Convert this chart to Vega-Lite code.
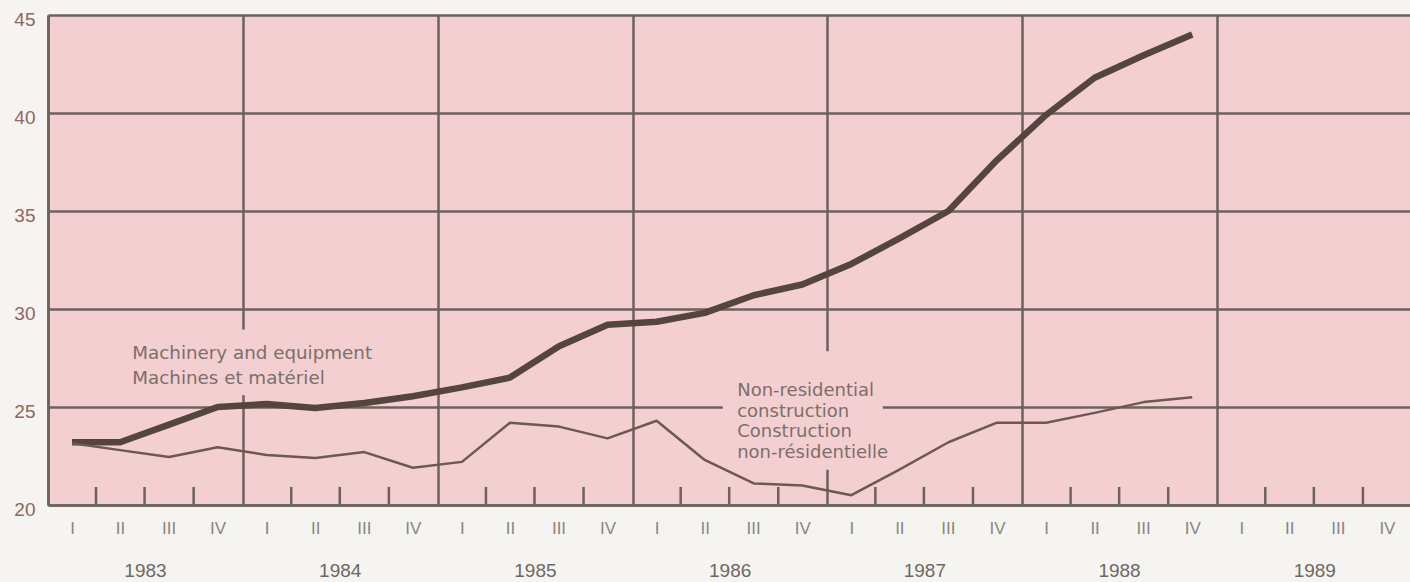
{
  "$schema": "https://vega.github.io/schema/vega-lite/v6.json",
  "width": 1364,
  "height": 490,
  "autosize": {"type": "none"},
  "padding": {"left": 48, "top": 15, "right": 0, "bottom": 77},
  "background": "#f5f4f0",
  "config": {"view": {"fill": "#f3cfd1", "stroke": null}, "font": "Liberation Sans"},
  "datasets": {
    "series": [
      {"date": "1983-02-15", "series": "Machinery and equipment", "value": 23.2},
      {"date": "1983-05-16", "series": "Machinery and equipment", "value": 23.2},
      {"date": "1983-08-16", "series": "Machinery and equipment", "value": 24.1},
      {"date": "1983-11-15", "series": "Machinery and equipment", "value": 25.0},
      {"date": "1984-02-15", "series": "Machinery and equipment", "value": 25.15},
      {"date": "1984-05-16", "series": "Machinery and equipment", "value": 24.95},
      {"date": "1984-08-16", "series": "Machinery and equipment", "value": 25.2},
      {"date": "1984-11-15", "series": "Machinery and equipment", "value": 25.55},
      {"date": "1985-02-15", "series": "Machinery and equipment", "value": 26.0},
      {"date": "1985-05-16", "series": "Machinery and equipment", "value": 26.5},
      {"date": "1985-08-16", "series": "Machinery and equipment", "value": 28.1},
      {"date": "1985-11-15", "series": "Machinery and equipment", "value": 29.2},
      {"date": "1986-02-15", "series": "Machinery and equipment", "value": 29.35},
      {"date": "1986-05-16", "series": "Machinery and equipment", "value": 29.8},
      {"date": "1986-08-16", "series": "Machinery and equipment", "value": 30.7},
      {"date": "1986-11-15", "series": "Machinery and equipment", "value": 31.25},
      {"date": "1987-02-15", "series": "Machinery and equipment", "value": 32.3},
      {"date": "1987-05-16", "series": "Machinery and equipment", "value": 33.6},
      {"date": "1987-08-16", "series": "Machinery and equipment", "value": 35.0},
      {"date": "1987-11-15", "series": "Machinery and equipment", "value": 37.6},
      {"date": "1988-02-15", "series": "Machinery and equipment", "value": 39.9},
      {"date": "1988-05-16", "series": "Machinery and equipment", "value": 41.8},
      {"date": "1988-08-16", "series": "Machinery and equipment", "value": 42.95},
      {"date": "1988-11-15", "series": "Machinery and equipment", "value": 44.0},
      {"date": "1983-02-15", "series": "Non-residential construction", "value": 23.15},
      {"date": "1983-05-16", "series": "Non-residential construction", "value": 22.8},
      {"date": "1983-08-16", "series": "Non-residential construction", "value": 22.45},
      {"date": "1983-11-15", "series": "Non-residential construction", "value": 22.95},
      {"date": "1984-02-15", "series": "Non-residential construction", "value": 22.55},
      {"date": "1984-05-16", "series": "Non-residential construction", "value": 22.4},
      {"date": "1984-08-16", "series": "Non-residential construction", "value": 22.7},
      {"date": "1984-11-15", "series": "Non-residential construction", "value": 21.9},
      {"date": "1985-02-15", "series": "Non-residential construction", "value": 22.2},
      {"date": "1985-05-16", "series": "Non-residential construction", "value": 24.2},
      {"date": "1985-08-16", "series": "Non-residential construction", "value": 24.0},
      {"date": "1985-11-15", "series": "Non-residential construction", "value": 23.4},
      {"date": "1986-02-15", "series": "Non-residential construction", "value": 24.3},
      {"date": "1986-05-16", "series": "Non-residential construction", "value": 22.3},
      {"date": "1986-08-16", "series": "Non-residential construction", "value": 21.1},
      {"date": "1986-11-15", "series": "Non-residential construction", "value": 21.0},
      {"date": "1987-02-15", "series": "Non-residential construction", "value": 20.5},
      {"date": "1987-05-16", "series": "Non-residential construction", "value": 21.8},
      {"date": "1987-08-16", "series": "Non-residential construction", "value": 23.2},
      {"date": "1987-11-15", "series": "Non-residential construction", "value": 24.2},
      {"date": "1988-02-15", "series": "Non-residential construction", "value": 24.2},
      {"date": "1988-05-16", "series": "Non-residential construction", "value": 24.7},
      {"date": "1988-08-16", "series": "Non-residential construction", "value": 25.25},
      {"date": "1988-11-15", "series": "Non-residential construction", "value": 25.5}
    ],
    "qticks": [
      {"date": "1983-04-01"}, {"date": "1983-07-01"}, {"date": "1983-10-01"},
      {"date": "1984-04-01"}, {"date": "1984-07-01"}, {"date": "1984-10-01"},
      {"date": "1985-04-01"}, {"date": "1985-07-01"}, {"date": "1985-10-01"},
      {"date": "1986-04-01"}, {"date": "1986-07-01"}, {"date": "1986-10-01"},
      {"date": "1987-04-01"}, {"date": "1987-07-01"}, {"date": "1987-10-01"},
      {"date": "1988-04-01"}, {"date": "1988-07-01"}, {"date": "1988-10-01"},
      {"date": "1989-04-01"}, {"date": "1989-07-01"}, {"date": "1989-10-01"}
    ]
  },
  "resolve": {"axis": {"x": "independent"}},
  "layer": [
    {
      "data": {"name": "qticks"},
      "mark": {"type": "rule", "color": "#6d625c", "strokeWidth": 2.5},
      "encoding": {
        "x": {
          "field": "date", "type": "temporal",
          "scale": {"type": "utc", "domain": [{"year": 1983, "month": 1, "date": 1, "utc": true}, {"year": 1990, "month": 1, "date": 1, "utc": true}], "nice": false},
          "axis": {
            "title": null, "orient": "bottom", "tickCount": {"interval": "year", "step": 1},
            "grid": true, "gridColor": "#6d625c", "gridWidth": 2.5, "gridOpacity": 1,
            "domain": true, "domainColor": "#6d625c", "domainWidth": 2.5, "domainOpacity": 1,
            "ticks": false,
            "labelExpr": "utcyear(datum.value) >= 1990 ? '' : utcFormat(datum.value, '%Y')",
            "labelOffset": 97, "labelPadding": 56, "labelBaseline": "top", "labelAlign": "center",
            "labelFontSize": 19, "labelColor": "#6e6862", "labelFont": "Liberation Sans",
            "labelFlush": false, "labelOverlap": false, "labelBound": false
          }
        },
        "y": {
          "datum": 20, "type": "quantitative",
          "scale": {"domain": [20, 45], "nice": false, "zero": false},
          "axis": {
            "title": null, "orient": "left", "values": [20, 25, 30, 35, 40, 45],
            "grid": true, "gridColor": "#6d625c", "gridWidth": 2.5, "gridOpacity": 1,
            "domain": true, "domainColor": "#6d625c", "domainWidth": 2.5, "domainOpacity": 1,
            "ticks": false, "labelPadding": 13, "labelOffset": 4,
            "labelFontSize": 19, "labelColor": "#8f6660", "labelFont": "Liberation Sans",
            "labelFlush": false
          }
        },
        "y2": {"datum": 20.92}
      }
    },
    {
      "data": {"values": [{}]},
      "mark": {"type": "rect", "fill": "#f3cfd1"},
      "encoding": {
        "x": {"datum": {"year": 1983, "month": 12, "date": 24, "utc": true}, "type": "temporal", "axis": null},
        "x2": {"datum": {"year": 1984, "month": 1, "date": 9, "utc": true}},
        "y": {"datum": 25.6, "type": "quantitative"},
        "y2": {"datum": 28.95}
      }
    },
    {
      "data": {"values": [{}]},
      "mark": {"type": "rect", "fill": "#f3cfd1"},
      "encoding": {
        "x": {"datum": {"year": 1986, "month": 12, "date": 24, "utc": true}, "type": "temporal", "axis": null},
        "x2": {"datum": {"year": 1987, "month": 1, "date": 9, "utc": true}},
        "y": {"datum": 21.8, "type": "quantitative"},
        "y2": {"datum": 27.85}
      }
    },
    {
      "data": {"values": [{}]},
      "mark": {"type": "rect", "fill": "#f3cfd1"},
      "encoding": {
        "x": {"datum": {"year": 1986, "month": 6, "date": 19, "utc": true}, "type": "temporal", "axis": null},
        "x2": {"datum": {"year": 1987, "month": 4, "date": 15, "utc": true}},
        "y": {"datum": 24.8, "type": "quantitative"},
        "y2": {"datum": 25.2}
      }
    },
    {
      "data": {"name": "series"},
      "mark": {"type": "line", "strokeJoin": "round"},
      "encoding": {
        "x": {
          "field": "date", "type": "temporal",
          "scale": {"type": "utc", "domain": [{"year": 1983, "month": 1, "date": 1, "utc": true}, {"year": 1990, "month": 1, "date": 1, "utc": true}], "nice": false},
          "axis": {
            "title": null, "orient": "bottom", "tickCount": {"interval": "month", "step": 3},
            "grid": false, "domain": false, "ticks": false,
            "labelExpr": "utcyear(datum.value) >= 1990 ? '' : ['I','II','III','IV'][floor(utcmonth(datum.value)/3)]",
            "labelOffset": 24, "labelPadding": 15, "labelBaseline": "top", "labelAlign": "center",
            "labelFontSize": 17, "labelColor": "#8c8580", "labelFont": "Liberation Sans",
            "labelFlush": false, "labelOverlap": false, "labelBound": false
          }
        },
        "y": {
          "field": "value", "type": "quantitative",
          "scale": {"domain": [20, 45], "nice": false, "zero": false}
        },
        "color": {
          "field": "series", "type": "nominal",
          "scale": {"domain": ["Machinery and equipment", "Non-residential construction"], "range": ["#55453f", "#6d5852"]},
          "legend": null
        },
        "strokeWidth": {
          "field": "series", "type": "nominal",
          "scale": {"domain": ["Machinery and equipment", "Non-residential construction"], "range": [6.5, 2.5]},
          "legend": null
        }
      }
    },
    {
      "data": {"values": [{}]},
      "mark": {"type": "text", "text": ["Machinery and equipment", "Machines et matériel"], "font": "DejaVu Sans", "fontSize": 18.3, "lineHeight": 25, "align": "left", "baseline": "top", "color": "#7d6e6a"},
      "encoding": {
        "x": {"datum": {"year": 1983, "month": 6, "date": 8, "utc": true}, "type": "temporal", "axis": null},
        "y": {"datum": 28.16, "type": "quantitative"}
      }
    },
    {
      "data": {"values": [{}]},
      "mark": {"type": "text", "text": ["Non-residential", "construction", "Construction", "non-résidentielle"], "font": "DejaVu Sans", "fontSize": 18, "lineHeight": 20.7, "align": "left", "baseline": "top", "color": "#7d6e6a"},
      "encoding": {
        "x": {"datum": {"year": 1986, "month": 7, "date": 16, "utc": true}, "type": "temporal", "axis": null},
        "y": {"datum": 26.28, "type": "quantitative"}
      }
    }
  ]
}
